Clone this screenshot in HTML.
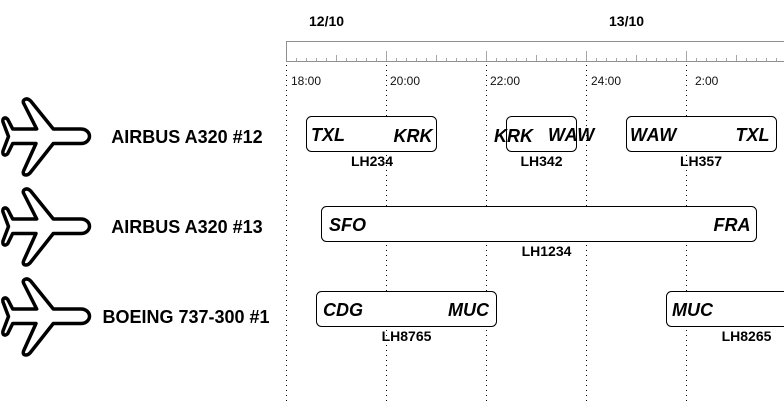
<!DOCTYPE html>
<html><head><meta charset="utf-8">
<style>
html,body{margin:0;padding:0;background:#fff}
svg{display:block;font-family:"Liberation Sans",sans-serif}
.d{font-size:14px;font-weight:bold;fill:#000}
.t{font-size:12px;fill:#111}
.a{font-size:18px;font-weight:bold;font-style:italic;fill:#000}
.w{letter-spacing:.6px}
.f{font-size:14px;font-weight:bold;text-anchor:middle;fill:#000}
.n{font-size:18px;font-weight:bold;text-anchor:middle;fill:#000}
.v{stroke:#000;stroke-width:1;stroke-dasharray:1 4;fill:none}
.b{fill:#fff;stroke:#000;stroke-width:1}
.p{fill:#fff;stroke:#000;stroke-width:3.500;stroke-linejoin:round}
</style></head><body>
<svg width="784" height="407" viewBox="0 0 784 407" xmlns="http://www.w3.org/2000/svg">
<rect width="784" height="407" fill="#fff"/>
<text class="d" x="309" y="26">12/10</text>
<text class="d" x="609" y="26">13/10</text>
<path d="M286.500 61.500V41.500H784" fill="none" stroke="#909090" stroke-width="1"/>
<path d="M286 61.500H784" stroke="#909090" stroke-width="1"/>
<path d="M296.500 61V58M306.500 61V58M316.500 61V58M326.500 61V58M336.500 61V55M346.500 61V58M356.500 61V58M366.500 61V58M376.500 61V58M386.500 61V51M396.500 61V58M406.500 61V58M416.500 61V58M426.500 61V58M436.500 61V55M446.500 61V58M456.500 61V58M466.500 61V58M476.500 61V58M486.500 61V51M496.500 61V58M506.500 61V58M516.500 61V58M526.500 61V58M536.500 61V55M546.500 61V58M556.500 61V58M566.500 61V58M576.500 61V58M586.500 61V51M596.500 61V58M606.500 61V58M616.500 61V58M626.500 61V58M636.500 61V55M646.500 61V58M656.500 61V58M666.500 61V58M676.500 61V58M686.500 61V51M696.500 61V58M706.500 61V58M716.500 61V58M726.500 61V58M736.500 61V55M746.500 61V58M756.500 61V58M766.500 61V58M776.500 61V58" stroke="#a8a8a8" stroke-width="1" fill="none"/>
<path class="v" d="M286.500 65V402M386.500 65V402M486.500 65V402M586.500 65V402M686.500 65V402"/>
<text class="t" x="291" y="85">18:00</text>
<text class="t" x="390" y="85">20:00</text>
<text class="t" x="490" y="85">22:00</text>
<text class="t" x="591" y="85">24:00</text>
<text class="t" x="695" y="85">2:00</text>

<path class="p" d="M81 129H53.300L30.700 101Q27 97.500 24 100Q22.500 101.500 24 104L36.700 129H12.700L7.800 119.500Q5.500 117 3.500 118.500Q2.500 119.500 3 122L8.500 136.500L3 151Q2.500 153.500 3.500 154.500Q5.500 156 7.800 153.500L12.700 143.500H36L24 170Q22.500 173 24 174.500Q27 176 30 173L53.300 143.500H81C86 143.500 89.500 140 89.500 136.300C89.500 132.500 86 129 81 129Z"/>
<path class="p" transform="translate(0 90)" d="M81 129H53.300L30.700 101Q27 97.500 24 100Q22.500 101.500 24 104L36.700 129H12.700L7.800 119.500Q5.500 117 3.500 118.500Q2.500 119.500 3 122L8.500 136.500L3 151Q2.500 153.500 3.500 154.500Q5.500 156 7.800 153.500L12.700 143.500H36L24 170Q22.500 173 24 174.500Q27 176 30 173L53.300 143.500H81C86 143.500 89.500 140 89.500 136.300C89.500 132.500 86 129 81 129Z"/>
<path class="p" transform="translate(0 180)" d="M81 129H53.300L30.700 101Q27 97.500 24 100Q22.500 101.500 24 104L36.700 129H12.700L7.800 119.500Q5.500 117 3.500 118.500Q2.500 119.500 3 122L8.500 136.500L3 151Q2.500 153.500 3.500 154.500Q5.500 156 7.800 153.500L12.700 143.500H36L24 170Q22.500 173 24 174.500Q27 176 30 173L53.300 143.500H81C86 143.500 89.500 140 89.500 136.300C89.500 132.500 86 129 81 129Z"/>

<text class="n" x="187" y="143">AIRBUS A320 #12</text>
<text class="n" x="187" y="233">AIRBUS A320 #13</text>
<text class="n" x="186" y="323">BOEING 737-300 #1</text>

<rect class="b" x="306.500" y="116.500" width="130" height="35" rx="5"/>
<text class="a" x="311" y="141">TXL</text>
<text class="a" x="432.500" y="142" text-anchor="end">KRK</text>
<text class="f" x="372" y="166">LH234</text>

<rect class="b" x="506.500" y="116.500" width="70" height="35" rx="5"/>
<text class="a" x="494" y="142">KRK</text>
<text class="a w" x="548" y="141">WAW</text>
<text class="f" x="541.500" y="166">LH342</text>

<rect class="b" x="626.500" y="116.500" width="150" height="35" rx="5"/>
<text class="a w" x="630" y="141">WAW</text>
<text class="a" x="769.500" y="141" text-anchor="end">TXL</text>
<text class="f" x="701" y="166">LH357</text>

<rect class="b" x="321.500" y="206.500" width="435" height="35" rx="5"/>
<text class="a" x="329" y="231">SFO</text>
<text class="a" x="750.500" y="231" text-anchor="end">FRA</text>
<text class="f" x="546.500" y="256">LH1234</text>

<rect class="b" x="316.500" y="291.500" width="180" height="35" rx="5"/>
<text class="a" x="323" y="316">CDG</text>
<text class="a" x="489" y="316" text-anchor="end">MUC</text>
<text class="f" x="406.500" y="341">LH8765</text>

<rect class="b" x="666.500" y="291.500" width="130" height="35" rx="5"/>
<text class="a" x="672" y="316">MUC</text>
<text class="f" x="746.500" y="341">LH8265</text>
</svg>
</body></html>
